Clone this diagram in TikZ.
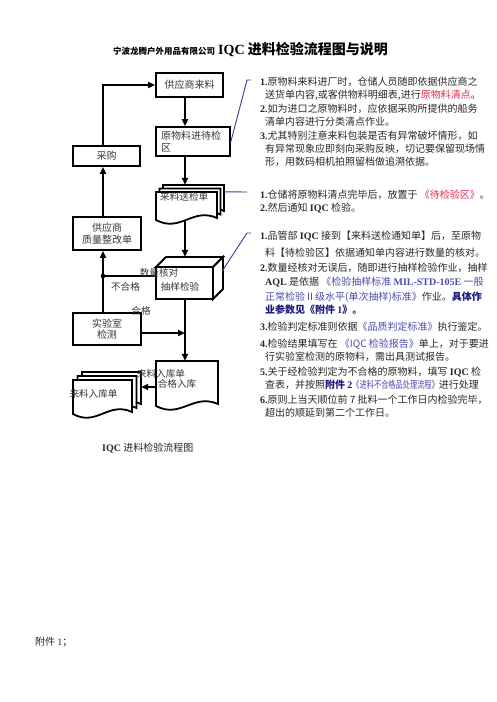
\documentclass[tikz,border=0pt]{standalone}
\usepackage{fontspec}
\setmainfont{Noto Sans CJK SC}
\newfontfamily\tnr{Liberation Serif}
\usetikzlibrary{arrows.meta,calc}
\definecolor{redt}{RGB}{225,45,80}
\definecolor{bluet}{RGB}{75,75,175}
\definecolor{navyt}{RGB}{25,25,125}
\definecolor{linep}{RGB}{70,55,150}
\definecolor{bodyt}{RGB}{40,40,40}
\definecolor{boxt}{RGB}{55,55,55}
\newcommand\Bn[1]{{\tnr\bfseries #1}}
\newcommand\Rd[1]{\textcolor{redt}{#1}}
\newcommand\Bl[1]{\textcolor{bluet}{#1}}
\newcommand\Nv[1]{\textcolor{navyt}{\bfseries #1}}
\newcommand\mkdoc[4]{%
  \draw[docst] (#1,#3) -- (#2,#3) -- (#2,#4-2)
    .. controls ({#2-0.4*(#2-#1)},#4-13) and ({#1+0.4*(#2-#1)},#4+13) .. (#1,#4) -- cycle;}
\tikzset{
  boxline/.style={draw=black, line width=1.8pt, line join=miter},
  box/.style={boxline, rectangle, inner sep=0pt, text=boxt, font=\fontsize{10}{11.5}\selectfont},
  hold/.style={rectangle, inner sep=0pt},
  docst/.style={boxline, fill=white},
  arr/.style={line width=1.8pt, -{Triangle[length=7pt,width=6pt]}},
  plain/.style={line width=1.8pt},
  pline/.style={draw=linep, line width=0.9pt},
  lbl/.style={inner sep=0pt, text=boxt, font=\fontsize{9.6}{11}\selectfont},
  txt/.style={anchor=west, inner sep=0pt, text=bodyt, font=\fontsize{10}{12}\selectfont},
}
\begin{document}
\begin{tikzpicture}[x=1pt,y=-1pt]
\fill[white] (0,0) rectangle (496,702);
\useasboundingbox (0,0) rectangle (496,702);

% title
\node[anchor=west, inner sep=0pt] (title) at (113,50)
  {\fontsize{8.5}{10}\selectfont\bfseries 宁波龙腾户外用品有限公司\hspace{3pt}{\fontsize{14}{16}\selectfont\Bn{IQC} 进料检验流程图与说明}};

% helper coordinates
\coordinate (ax) at (185,0);
\coordinate (lx) at (103,0);

% boxes
\node[box, minimum width=67, minimum height=24] (supply) at (189.5,85) {供应商来料};
\node[box, minimum height=29, text width=64, inner xsep=5pt, align=left] (wait) at (193,141.5) {原物料进待检\\区};
\node[box, minimum width=67, minimum height=20] (buy) at (106.5,156) {采购};
\node[box, minimum width=68, minimum height=33, align=center] (rect) at (107,233.5) {供应商\\质量整改单};
\node[box, minimum width=68, minimum height=32, align=center] (lab) at (107,329) {实验室\\检测};

% holders for drawn shapes
\node[hold, minimum width=61, minimum height=28] (send) at (186.5,206) {};
\node[hold, minimum width=57, minimum height=32] (cube) at (184.5,283) {};
\node[hold, minimum width=62, minimum height=45] (pass) at (187,383.5) {};
\node[hold, minimum width=59, minimum height=34] (store) at (102.5,397) {};

% multi-document: send
\mkdoc{163}{224}{185}{213}
\mkdoc{159.5}{220.5}{188.5}{216.5}
\mkdoc{156}{217}{192}{220}
% cube
\draw[boxline, fill=white] (156,267) rectangle (213,299);
\draw[boxline, fill=white] (156,267) -- (166,257) -- (223,257) -- (213,267) -- cycle;
\draw[boxline, fill=white] (213,267) -- (223,257) -- (223,289) -- (213,299) -- cycle;
% pass document
\mkdoc{156}{218}{361}{406}
% multi-document: store
\mkdoc{82}{141}{372}{406}
\mkdoc{77.5}{136.5}{376}{410}
\mkdoc{73}{132}{380}{414}

% connectors
\draw[arr] (supply.south -| ax) -- (wait.north -| ax);
\draw[arr] (wait.south -| ax) -- ($(send.north -| ax)+(0,-7)$);
\draw[arr] (send.south -| ax) -- ($(cube.north -| ax)+(0,-10)$);
\draw[arr] (cube.south -| ax) -- (pass.north -| ax);
\draw[arr] ($(lab.east)+(0,4)$) -- ($(lab.east -| ax)+(0,4)$);
\draw[arr] ($(pass.west)+(0,3.5)$) -- ($(store.east)+(9,-10)$);
\draw[arr] (lab.north -| lx) -- (rect.south -| lx);
\coordinate (dot) at ($(cube.west -| lx)+(0,-7)$);
\draw[plain] (dot) -- ($(cube.west)+(0,-7)$);
\fill (dot) circle (2.3);
\draw[arr] (rect.north -| lx) -- (buy.south -| lx);
\draw[arr] (buy.north -| lx) |- (supply.west);

% labels on chart
\node[lbl, anchor=west] (sendt) at (160,197) {来料送检单};
\node[lbl] (qty) at (159,273) {数量核对};
\node[lbl] (samp) at (180,287) {抽样检验};
\node[lbl] (ng) at (125.5,287) {不合格};
\node[lbl] (ok) at (141,311) {合格};
\node[lbl] (rk1) at (161,374) {来料入库单};
\node[lbl] (rk2) at (177,384) {合格入库};
\node[lbl] (storet) at (93.5,394) {来料入库单};

% bracket lines
\coordinate (b1a) at (247,80); \coordinate (b1b) at (251,80);
\draw[pline] (wait.east) -- (b1a) -- (b1b);
\coordinate (b2) at (247,192);
\draw[pline] ($(send.north east)+(7,0)$) -- (b2);
\coordinate (b3a) at (247,233); \coordinate (b3b) at (251,233);
\draw[pline] ($(cube.east)+(9,-12)$) -- (b3a) -- (b3b);

% block 1
\node[txt] (a1) at (260,82) {\Bn{1.}原物料来料进厂时，仓储人员随即依据供应商之};
\node[txt] (a2) at (265,95) {送货单内容,或客供物料明细表,进行\Rd{原物料清点}。};
\node[txt] (a3) at (260,109) {\Bn{2.}如为进口之原物料时，应依据采购所提供的船务};
\node[txt] (a4) at (265,122) {清单内容进行分类清点作业。};
\node[txt] (a5) at (260,136) {\Bn{3.}尤其特别注意来料包装是否有异常破坏情形，如};
\node[txt] (a6) at (265,149) {有异常现象应即刻向采购反映，切记要保留现场情};
\node[txt] (a7) at (265,162) {形，用数码相机拍照留档做追溯依据。};

% block 2
\node[txt] (c1) at (260,195) {\Bn{1.}仓储将原物料清点完毕后，放置于 \Rd{《待检验区》}。};
\node[txt] (c2) at (260,208) {\Bn{2.}然后通知 \Bn{IQC} 检验。};

% block 3
\node[txt] (d1) at (260,236) {\Bn{1.}品管部 \Bn{IQC} 接到【来料送检通知单】后，至原物};
\node[txt] (d2) at (265,253) {料【待检验区】依据通知单内容进行数量的核对。};
\node[txt] (d3) at (260,268) {\Bn{2.}数量经核对无误后，随即进行抽样检验作业，抽样};
\node[txt] (d4) at (265,282) {\Bn{AQL} 是依据 \Bl{《检验抽样标准 \Bn{MIL-STD-105E} 一般}};
\node[txt] (d5) at (265,297) {\Bl{正常检验Ⅱ级水平(单次抽样)标准》}作业。\Nv{具体作}};
\node[txt] (d6) at (265,310) {\Nv{业参数见《附件 {\tnr 1}》。}};
\node[txt] (d7) at (260,327) {\Bn{3.}检验判定标准则依据\Bl{《品质判定标准》}执行鉴定。};
\node[txt] (d8) at (260,344) {\Bn{4.}检验结果填写在 \Bl{《IQC 检验报告》}单上，对于要进};
\node[txt] (d9) at (265,357) {行实验室检测的原物料，需出具测试报告。};
\node[txt] (d10) at (260,372) {\Bn{5.}关于经检验判定为不合格的原物料，填写 \Bn{IQC} 检};
\node[txt] (d11) at (265,385) {查表，并按照\Nv{附件 {\tnr 2}}\scalebox{0.72}[1]{\Bl{《进料不合格品处理流程》}}进行处理};
\node[txt] (d12) at (260,400) {\Bn{6.}原则上当天顺位前 7 批料一个工作日内检验完毕，};
\node[txt] (d13) at (265,413) {超出的顺延到第二个工作日。};

% caption and annex
\node[anchor=west, inner sep=0pt, text=bodyt, font=\fontsize{10}{12}\selectfont] (cap) at (102,448) {\Bn{IQC} 进料检验流程图};
\node[anchor=west, inner sep=0pt, text=bodyt, font=\fontsize{10}{12}\selectfont] (annex) at (35,642) {附件 {\tnr 1}；};
\end{tikzpicture}
\end{document}
